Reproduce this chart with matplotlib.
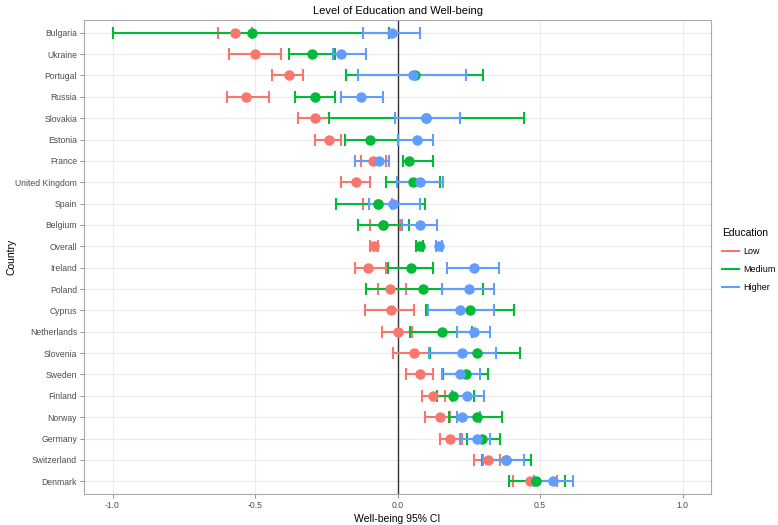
import matplotlib
matplotlib.use("Agg")
import matplotlib.pyplot as plt
from matplotlib.lines import Line2D
import numpy as np

COUNTRIES = ["Bulgaria", "Ukraine", "Portugal", "Russia", "Slovakia", "Estonia",
             "France", "United Kingdom", "Spain", "Belgium", "Overall", "Ireland",
             "Poland", "Cyprus", "Netherlands", "Slovenia", "Sweden", "Finland",
             "Norway", "Germany", "Switzerland", "Denmark"]

LOW_EST = [-0.57, -0.50, -0.38, -0.53, -0.29, -0.24, -0.085, -0.145, -0.07, -0.05, -0.083, -0.105,
           -0.025, -0.022, 0.0, 0.057, 0.077, 0.123, 0.148, 0.185, 0.316, 0.463]
LOW_LO = [-0.63, -0.59, -0.44, -0.60, -0.35, -0.29, -0.13, -0.20, -0.12, -0.095, -0.095, -0.15,
          -0.07, -0.115, -0.055, -0.015, 0.028, 0.087, 0.095, 0.148, 0.267, 0.405]
LOW_HI = [-0.51, -0.41, -0.33, -0.45, -0.24, -0.20, -0.04, -0.095, -0.02, 0.01, -0.07, -0.04,
          0.028, 0.057, 0.05, 0.11, 0.125, 0.165, 0.185, 0.225, 0.358, 0.558]

MED_EST = [-0.51, -0.30, 0.06, -0.29, 0.10, -0.095, 0.04, 0.055, -0.068, -0.05, 0.077, 0.048,
           0.088, 0.254, 0.155, 0.277, 0.24, 0.196, 0.277, 0.298, 0.38, 0.484]
MED_LO = [-1.0, -0.38, -0.18, -0.36, -0.24, -0.185, 0.018, -0.04, -0.215, -0.14, 0.065, -0.035,
          -0.112, 0.10, 0.045, 0.115, 0.16, 0.137, 0.18, 0.245, 0.298, 0.39]
MED_HI = [-0.03, -0.22, 0.30, -0.22, 0.445, 0.0, 0.125, 0.15, 0.095, 0.04, 0.09, 0.125,
          0.30, 0.407, 0.26, 0.428, 0.316, 0.267, 0.368, 0.358, 0.467, 0.586]

HIGH_EST = [-0.02, -0.20, 0.055, -0.13, 0.10, 0.067, -0.065, 0.077, -0.017, 0.077, 0.145, 0.267,
            0.25, 0.218, 0.267, 0.225, 0.218, 0.245, 0.225, 0.277, 0.382, 0.547]
HIGH_LO = [-0.12, -0.225, -0.14, -0.20, -0.01, 0.0, -0.15, -0.003, -0.10, 0.015, 0.135, 0.175,
           0.157, 0.108, 0.207, 0.11, 0.157, 0.19, 0.207, 0.218, 0.30, 0.48]
HIGH_HI = [0.077, -0.11, 0.24, -0.05, 0.22, 0.125, -0.03, 0.16, 0.077, 0.137, 0.155, 0.355,
           0.337, 0.337, 0.323, 0.347, 0.288, 0.305, 0.29, 0.326, 0.445, 0.617]

LEVELS = ["Low", "Medium", "Higher"]
COLORS = ["#F8766D", "#00BA38", "#619CFF"]


def main():
    plt.rcParams["font.family"] = ["Liberation Sans", "DejaVu Sans"]
    fig = plt.figure(figsize=(7.78, 5.25), dpi=100)
    ax = fig.add_axes([0.108, 0.059, 0.806, 0.903])

    ys = np.arange(len(COUNTRIES))
    series = [(LOW_EST, LOW_LO, LOW_HI), (MED_EST, MED_LO, MED_HI), (HIGH_EST, HIGH_LO, HIGH_HI)]

    for (est, lo, hi), color in zip(series, COLORS):
        est = np.array(est)
        err = np.vstack([est - np.array(lo), np.array(hi) - est])
        ax.errorbar(est, ys, xerr=err, fmt="none", ecolor=color, elinewidth=1.5,
                    capsize=4.5, capthick=1.5, zorder=3)
    for (est, lo, hi), color in zip(series, COLORS):
        ax.plot(est, ys, "o", color=color, markersize=6.5, zorder=4)

    ax.axvline(0, color="#333333", linewidth=1.0, zorder=2)

    ax.set_xlim(-1.1, 1.1)
    ax.set_ylim(len(COUNTRIES) - 1 + 0.6, -0.6)
    ax.set_yticks(ys)
    ax.set_yticklabels(COUNTRIES, fontsize=6.2, color="#4D4D4D")
    ax.set_xticks([-1.0, -0.5, 0.0, 0.5, 1.0])
    ax.set_xticklabels(["-1.0", "-0.5", "0.0", "0.5", "1.0"], fontsize=6.2, color="#4D4D4D")
    ax.tick_params(length=3, width=0.6, color="#7F7F7F", pad=2)
    ax.grid(True, color="#EBEBEB", linewidth=0.8, zorder=0)
    ax.set_axisbelow(True)
    for sp in ax.spines.values():
        sp.set_color("#AAAAAA")
        sp.set_linewidth(0.8)

    ax.set_title("Level of Education and Well-being", fontsize=8, pad=4)
    ax.set_xlabel("Well-being 95% CI", fontsize=7.5, labelpad=3)
    ax.set_ylabel("Country", fontsize=7.5)
    ax.yaxis.set_label_coords(-0.107, 0.5)

    handles = [Line2D([0], [0], color=c, linewidth=1.5) for c in COLORS]
    leg = fig.legend(handles, LEVELS, title="Education", loc="center left",
                     bbox_to_anchor=(0.918, 0.505), frameon=False, fontsize=6.5,
                     title_fontsize=7.5, handlelength=1.8, labelspacing=1.0,
                     handletextpad=0.5)
    leg._legend_box.align = "left"

    fig.savefig("out.png", dpi=100)
    plt.close(fig)


if __name__ == "__main__":
    main()
